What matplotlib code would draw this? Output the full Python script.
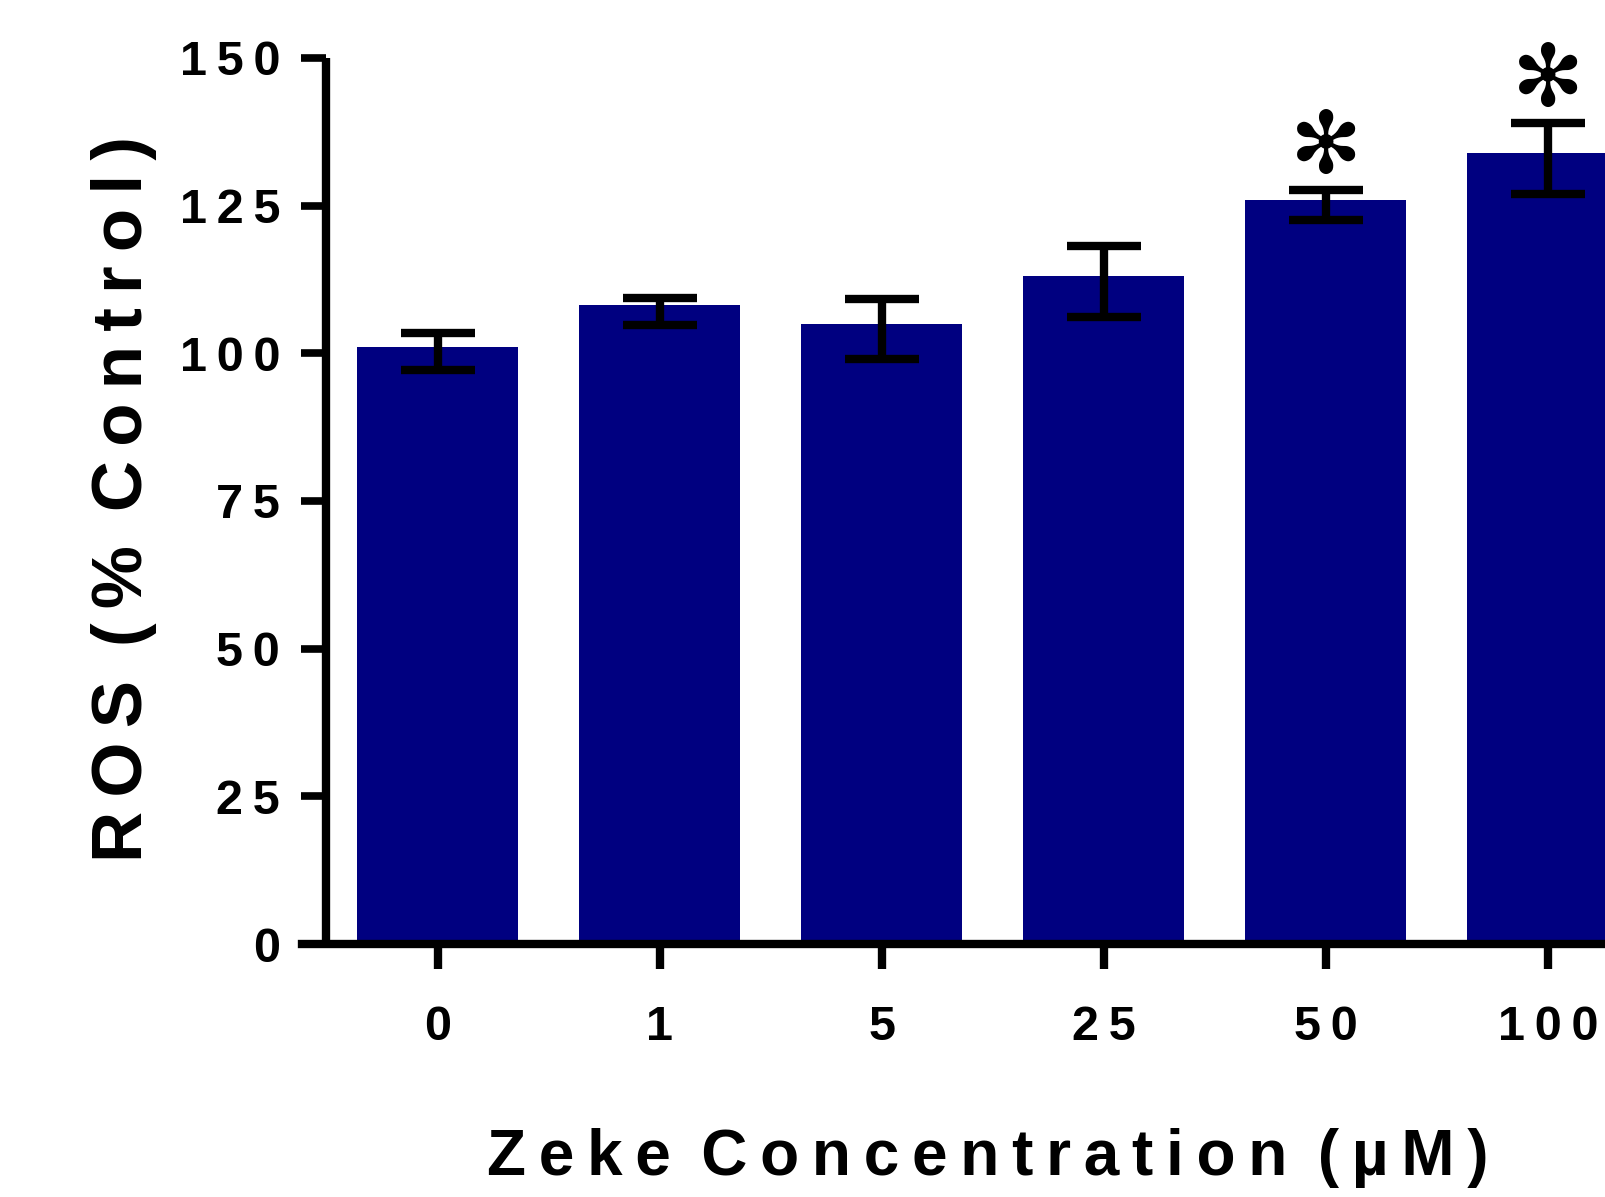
import matplotlib
matplotlib.use('Agg')
from matplotlib import pyplot as plt
from matplotlib.ticker import FuncFormatter

# data
concentrations = ['0', '1', '5', '25', '50', '100']
ros_mean = [101.0, 108.1, 105.0, 113.1, 126.0, 134.0]
err_high = [103.5, 109.3, 109.2, 118.2, 127.7, 139.0]
err_low = [97.1, 104.8, 99.0, 106.1, 122.5, 127.0]
significant = [False, False, False, False, True, True]

FONT = ['Liberation Sans', 'DejaVu Sans']
plt.rcParams['font.family'] = FONT
plt.rcParams['font.weight'] = 'bold'


def spaced(s):
    # wide letter spacing like the original figure
    return '\u2009 '.join('\u2009'.join(w) for w in s.split(' '))


fig = plt.figure(figsize=(16.05, 11.97), dpi=100)
ax = fig.add_axes([302 / 1605, 1 - 944 / 1197, 1379 / 1605, 886 / 1197])

x = list(range(len(concentrations)))
ax.bar(x, ros_mean, width=0.725, color='#000080', zorder=2)

yerr = [[m - lo for m, lo in zip(ros_mean, err_low)],
        [hi - m for m, hi in zip(ros_mean, err_high)]]
ax.errorbar(x, ros_mean, yerr=yerr, fmt='none', ecolor='black',
            elinewidth=6.0, capsize=26.5, capthick=6.0, zorder=3)

for xi, hi, sig in zip(x, err_high, significant):
    if sig:
        ax.text(xi, hi + 6.8, '\u273b', ha='center', va='center',
                fontsize=62, family=['DejaVu Sans'], fontweight='normal', zorder=4)

ax.set_xlim(-0.611, 5.6)
ax.set_ylim(0, 150)
ax.set_yticks([0, 25, 50, 75, 100, 125, 150])
ax.set_xticks(x)
ax.set_xticklabels([spaced(c) for c in concentrations])
ax.yaxis.set_major_formatter(FuncFormatter(lambda v, p: spaced(str(int(v)))))

for side in ['top', 'right']:
    ax.spines[side].set_visible(False)
ax.spines['left'].set_position(('data', -0.503))
ax.spines['left'].set_linewidth(6.0)
ax.spines['bottom'].set_linewidth(6.0)
ax.spines['left'].set_capstyle('butt')

ax.tick_params(axis='y', length=18, width=5.5, pad=15, labelsize=35)
ax.tick_params(axis='x', length=18, width=6.0, pad=26, labelsize=35)
for lbl in ax.get_xticklabels() + ax.get_yticklabels():
    lbl.set_fontweight('bold')

fig.text(988 / 1605, 1 - 1175 / 1197, spaced('Zeke Concentration (\u00b5M)'),
         ha='center', va='baseline', fontsize=46, fontweight='bold')
fig.text(124 / 1605, 1 - 499 / 1197, spaced('ROS (% Control)'),
         ha='center', va='center', rotation=90, fontsize=51, fontweight='bold')

fig.savefig('out.png', dpi=100)
